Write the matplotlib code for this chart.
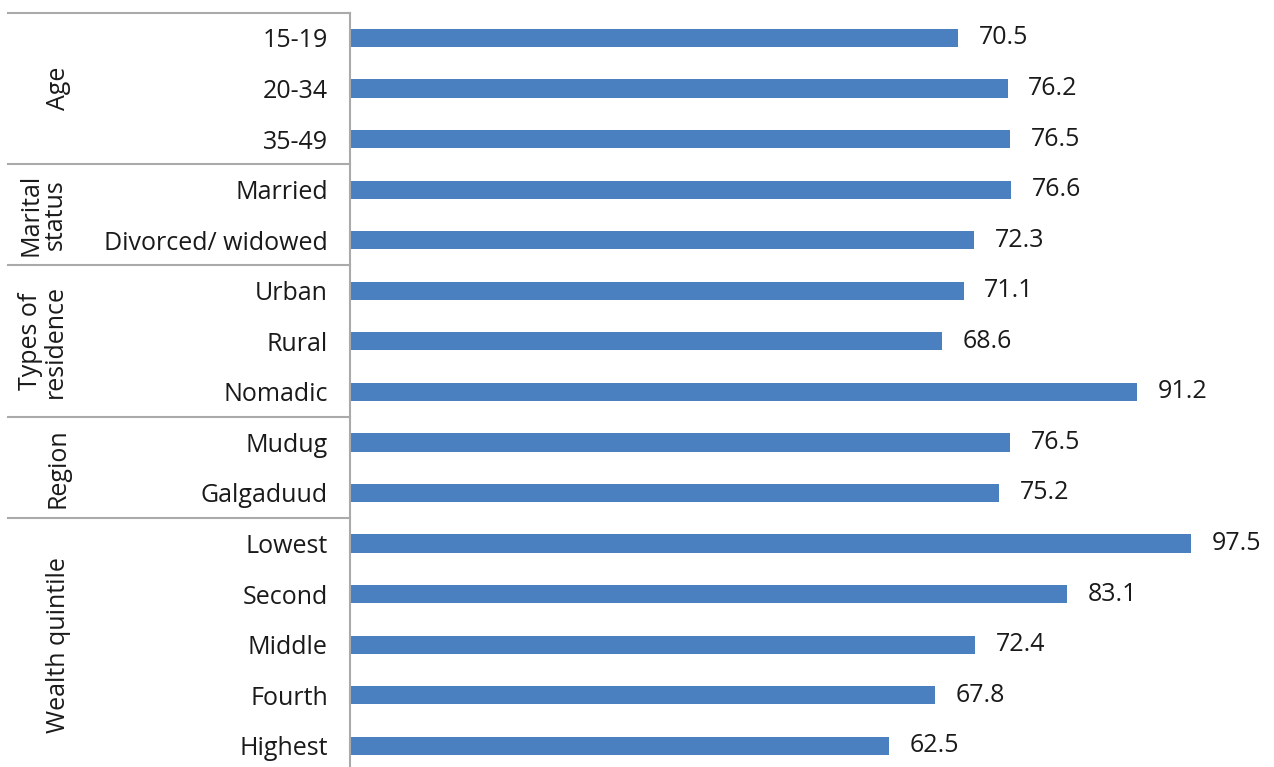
import matplotlib
matplotlib.use("Agg")
import matplotlib.pyplot as plt
from matplotlib.transforms import blended_transform_factory

categories = ["15-19", "20-34", "35-49", "Married", "Divorced/ widowed",
              "Urban", "Rural", "Nomadic", "Mudug", "Galgaduud",
              "Lowest", "Second", "Middle", "Fourth", "Highest"]
values = [70.5, 76.2, 76.5, 76.6, 72.3, 71.1, 68.6, 91.2, 76.5, 75.2,
          97.5, 83.1, 72.4, 67.8, 62.5]
groups = ["Age", "Marital\nstatus", "Types of\nresidence", "Region", "Wealth quintile"]
group_sizes = [3, 2, 3, 2, 5]

plt.rcParams['font.family'] = ['Open Sans', 'DejaVu Sans']
FS = 18

W, H = 1274, 767
fig = plt.figure(figsize=(W / 100, H / 100), dpi=100)
ax = fig.add_axes([350 / W, 0, 1 - 350 / W, 1 - 12.7 / H])

ypos = list(range(len(categories)))
ax.barh(ypos, values, height=0.36, color="#4a80c0")
ax.set_xlim(0, (W - 350) / 8.63)
ax.set_ylim(14.42, -0.5)
ax.set_yticks(ypos)
ax.set_yticklabels(categories, fontsize=FS, color="#1a1a1a")
ax.tick_params(axis="y", length=0, pad=16)
ax.set_xticks([])
for s in ["top", "right", "bottom"]:
    ax.spines[s].set_visible(False)
ax.spines["left"].set_color("#aaaaaa")
ax.spines["left"].set_linewidth(1.5)

for y, v in zip(ypos, values):
    ax.text(v + 2.4, y, f"{v}", va="center", ha="left", fontsize=FS, color="#1a1a1a")

tr = blended_transform_factory(ax.transAxes, ax.transData)
x0 = (8 - 350) / (W - 350)
start = -0.5
ax.plot([x0, 0], [start, start], transform=tr, color="#aaaaaa", lw=1.5, clip_on=False)
label_x = {1: (58 - 350) / (W - 350), 2: (43 - 350) / (W - 350)}
for g, n in zip(groups, group_sizes):
    end = start + n
    if end < 14.4:
        ax.plot([x0, 0], [end, end], transform=tr, color="#aaaaaa", lw=1.5, clip_on=False)
    nl = g.count("\n") + 1
    ax.text(label_x[nl], (start + end) / 2, g, transform=tr, rotation=90,
            ha="center", va="center", fontsize=FS, color="#1a1a1a",
            multialignment="center", linespacing=1.0)
    start = end

fig.savefig("out.png", dpi=100)
